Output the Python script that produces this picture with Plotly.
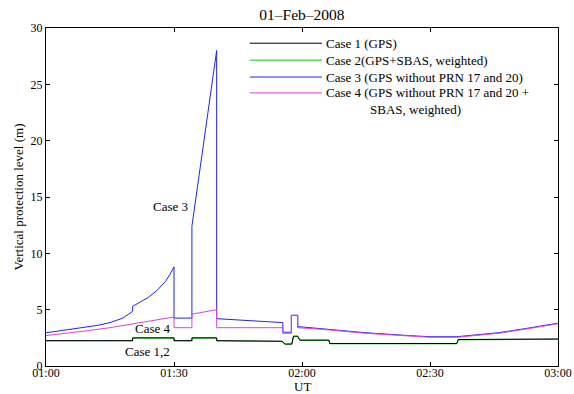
import plotly.graph_objects as go
import pandas as pd

DAY = "2008-02-01"

# Case 1 (GPS): minutes after 01:00 UT and VPL (m)
case1_min = [0, 20.3, 20.3, 30, 30, 34.2, 34.2, 40, 40, 55.3, 56, 57.6, 58, 59, 59.5, 66.3, 66.5, 96.3, 96.6, 120]
case1_vpl = [2.25, 2.25, 2.5, 2.5, 2.25, 2.25, 2.5, 2.5, 2.25, 2.2, 1.95, 1.95, 2.65, 2.65, 2.3, 2.3, 2.0, 2.0, 2.35, 2.4]

# Case 2 (GPS+SBAS, weighted)
case2_min = [0, 20.3, 20.3, 30, 30, 34.2, 34.2, 40, 40, 55.3, 56, 57.6, 58, 59, 59.5, 66.3, 66.5, 96.3, 96.6, 120]
case2_vpl = [2.23, 2.23, 2.47, 2.47, 2.23, 2.23, 2.47, 2.47, 2.23, 2.18, 1.93, 1.93, 2.6, 2.6, 2.27, 2.27, 1.97, 1.97, 2.32, 2.37]

# Case 3 (GPS without PRN 17 and 20)
case3_min = [0, 3, 6, 9, 12, 15, 18, 20.3, 20.3, 22, 24, 26, 28, 29, 30, 30, 34.2, 34.2, 40, 40, 55.5, 55.5, 57.5, 57.5,
             59, 59, 65, 75, 85, 90, 96.3, 101, 106, 112, 120]
case3_vpl = [2.95, 3.1, 3.25, 3.4, 3.6, 3.85, 4.25, 4.85, 5.3, 5.65, 6.1, 6.7, 7.5, 8.1, 8.8, 4.25, 4.25, 12.4, 28.0, 4.2,
             3.85, 3.0, 3.0, 4.5, 4.5, 3.5, 3.3, 2.95, 2.7, 2.6, 2.6, 2.75, 2.95, 3.3, 3.8]

# Case 4 (GPS without PRN 17 and 20 + SBAS, weighted)
case4_min = [0, 5, 10, 15, 20, 25, 30, 30, 34.2, 34.2, 37, 40, 40, 55.5, 55.5, 57.5, 57.5, 59, 59,
             65, 75, 85, 90, 96.3, 101, 106, 112, 120]
case4_vpl = [2.7, 2.9, 3.15, 3.4, 3.7, 4.0, 4.35, 3.4, 3.4, 4.6, 4.8, 5.0, 3.4, 3.4, 2.9, 2.9, 4.5, 4.5, 3.4,
             3.25, 2.9, 2.65, 2.55, 2.55, 2.7, 2.9, 3.25, 3.75]

case_names = [
    "Case 1 (GPS)",
    "Case 2(GPS+SBAS, weighted)",
    "Case 3 (GPS without PRN 17 and 20)",
    "Case 4 (GPS without PRN 17 and 20 +",
]
case4_name_cont = "SBAS, weighted)"
case_colors = ["#000000", "#00cc00", "#2020ff", "#e040e0"]
case_data = [(case1_min, case1_vpl), (case2_min, case2_vpl), (case3_min, case3_vpl), (case4_min, case4_vpl)]

t0 = pd.Timestamp(DAY + " 01:00")


def to_time(mins):
    return [t0 + pd.Timedelta(minutes=m) for m in mins]


SERIF = "Liberation Serif"

fig = go.Figure()
# draw order: green under black, blue under magenta
for idx in [1, 0, 2, 3]:
    mins, vals = case_data[idx]
    fig.add_trace(go.Scatter(x=to_time(mins), y=vals, mode="lines", name=case_names[idx],
                             line=dict(color=case_colors[idx], width=1), showlegend=False))

# key box (paper coordinates): sample lines with their labels
key_x0, key_x1, key_text_x = 0.398, 0.539, 0.543
key_rows = [0.955, 0.905, 0.855, 0.808]
for name, col, ry in zip(case_names, case_colors, key_rows):
    fig.add_shape(type="line", xref="paper", yref="paper", x0=key_x0, x1=key_x1, y0=ry, y1=ry,
                  line=dict(color=col, width=1))
    fig.add_annotation(xref="paper", yref="paper", x=key_text_x, y=ry, xanchor="left", yanchor="middle",
                       text=name, showarrow=False, font=dict(family=SERIF, size=13))
fig.add_annotation(xref="paper", yref="paper", x=0.629, y=0.758, xanchor="left", yanchor="middle",
                   text=case4_name_cont, showarrow=False, font=dict(family=SERIF, size=13))

tick_vals = to_time([0, 30, 60, 90, 120])
tick_text = ["01:00", "01:30", "02:00", "02:30", "03:00"]

fig.update_layout(
    width=574, height=394,
    margin=dict(l=46, r=16, t=28, b=28),
    paper_bgcolor="white", plot_bgcolor="white",
    font=dict(family=SERIF, size=12, color="black"),
    title=dict(text="01–Feb–2008", x=0.526, xanchor="center", y=0.964, yanchor="middle",
               font=dict(family=SERIF, size=15.5, color="black")),
    showlegend=False,
    xaxis=dict(range=[t0, t0 + pd.Timedelta(minutes=120)], tickvals=tick_vals, ticktext=tick_text,
               automargin=False,
               showgrid=False, zeroline=False, showline=True, linecolor="black", linewidth=1,
               mirror="ticks", ticks="inside", ticklen=4, tickcolor="black",
               ticklabelstandoff=-4,
               tickfont=dict(family=SERIF, size=12)),
    yaxis=dict(range=[0, 30], tickvals=[0, 5, 10, 15, 20, 25, 30],
               automargin=False,
               showgrid=False, zeroline=False, showline=True, linecolor="black", linewidth=1,
               mirror="ticks", ticks="inside", ticklen=4, tickcolor="black",
               tickfont=dict(family=SERIF, size=12),
               title=dict(text="Vertical protection level (m)", standoff=4,
                          font=dict(family=SERIF, size=13))),
)

# x-axis title
fig.add_annotation(xref="paper", yref="paper", x=0.5, y=-0.06, xanchor="center", yanchor="middle",
                   text="UT", showarrow=False, font=dict(family=SERIF, size=13))

fig.add_annotation(x=t0 + pd.Timedelta(minutes=29.1), y=14.2, text="Case 3", showarrow=False,
                   font=dict(family=SERIF, size=13))
fig.add_annotation(x=t0 + pd.Timedelta(minutes=25.1), y=3.37, text="Case 4", showarrow=False,
                   font=dict(family=SERIF, size=13))
fig.add_annotation(x=t0 + pd.Timedelta(minutes=23.9), y=1.33, text="Case 1,2", showarrow=False,
                   font=dict(family=SERIF, size=13))

fig.write_html("out.html")
